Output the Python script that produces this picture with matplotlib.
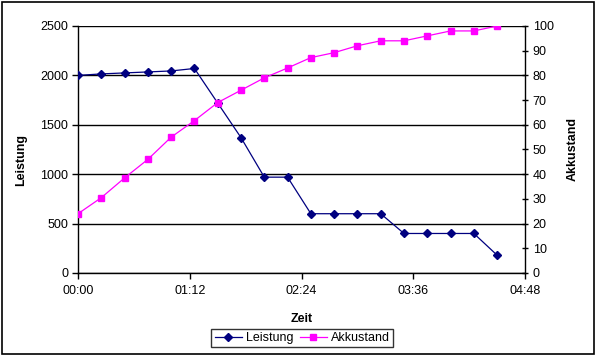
import matplotlib
matplotlib.use("Agg")
import matplotlib.pyplot as plt
from matplotlib.ticker import FuncFormatter, MultipleLocator
from matplotlib.patches import Rectangle

plt.rcParams['font.family'] = ['Liberation Sans', 'DejaVu Sans']

# Messwerte alle 15 Minuten
zeit = ["00:00", "00:15", "00:30", "00:45", "01:00", "01:15", "01:30", "01:45",
        "02:00", "02:15", "02:30", "02:45", "03:00", "03:15", "03:30", "03:45",
        "04:00", "04:15", "04:30"]
leistung = [2000, 2015, 2025, 2035, 2045, 2070, 1720, 1370, 970, 970,
            600, 600, 600, 600, 400, 400, 400, 400, 180]
akkustand = [24, 30.5, 38.5, 46, 55, 61.7, 69, 74, 79, 83,
             87.2, 89.2, 92, 94, 94, 96, 98, 98, 100]

minuten = [int(t[:2]) * 60 + int(t[3:]) for t in zeit]

fig = plt.figure(figsize=(5.96, 3.57), dpi=100)
ax = fig.add_axes([0.1309, 0.2353, 0.7501, 0.6919])
ax2 = ax.twinx()

l1, = ax.plot(minuten, leistung, color='#000080', lw=0.9, marker='D',
              markersize=4, label='Leistung', zorder=3)
l2, = ax2.plot(minuten, akkustand, color='#FF00FF', lw=0.9, marker='s',
               markersize=4.5, label='Akkustand', zorder=3)

ax.set_xlim(0, 288)
ax.set_ylim(0, 2500)
ax2.set_ylim(0, 100)
ax.xaxis.set_major_locator(MultipleLocator(72))
ax.xaxis.set_major_formatter(FuncFormatter(lambda v, p: "%02d:%02d" % (v // 60, v % 60)))
ax.yaxis.set_major_locator(MultipleLocator(500))
ax2.yaxis.set_major_locator(MultipleLocator(10))

ax.grid(axis='y', color='black', lw=1)
ax.set_axisbelow(True)
for a in (ax, ax2):
    a.spines['top'].set_visible(False)
ax.spines['right'].set_visible(False)
ax2.spines['left'].set_visible(False)
ax2.spines['bottom'].set_visible(False)
for s in ('left', 'bottom'):
    ax.spines[s].set_linewidth(1)
ax2.spines['right'].set_linewidth(1)

ax.tick_params(axis='y', labelsize=9, length=4, width=1, direction='out', pad=3)
ax.tick_params(axis='x', labelsize=9, length=4, width=1, direction='out', pad=5)
ax2.tick_params(axis='y', labelsize=9, length=5, width=1, direction='inout', pad=3)

ax.set_xlabel('Zeit', fontsize=9, fontweight='bold')
ax.xaxis.set_label_coords(0.5, -0.16)
ax.set_ylabel('Leistung', fontsize=9, fontweight='bold')
ax.yaxis.set_label_coords(-0.114, 0.457)
ax2.set_ylabel('Akkustand', fontsize=9, fontweight='bold')
ax2.yaxis.set_label_coords(1.094, 0.5)

leg = fig.legend([l1, l2], ['Leistung', 'Akkustand'], loc='center',
                 bbox_to_anchor=(0.507, 0.053), ncol=2, fontsize=9,
                 frameon=True, fancybox=False, edgecolor='black',
                 handlelength=2.2, handletextpad=0.3, columnspacing=0.5,
                 borderpad=0.25)
leg.get_frame().set_linewidth(1)

fig.patches.append(Rectangle((0.003, 0.008), 0.993, 0.985, transform=fig.transFigure,
                             fill=False, edgecolor='black', lw=1.2))

fig.savefig('out.png', dpi=100)
